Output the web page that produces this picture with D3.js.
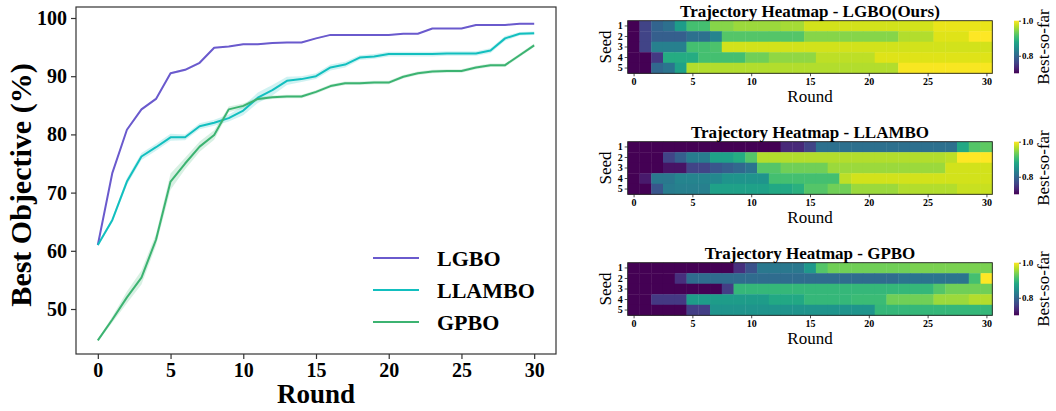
<!DOCTYPE html>
<html><head><meta charset="utf-8">
<script src="https://cdn.jsdelivr.net/npm/d3@7"></script>
<style>
html,body{margin:0;padding:0;background:#fff;}
svg text{font-family:"Liberation Serif","Times New Roman",serif;}
</style></head>
<body>
<svg id="c" width="1056" height="411"></svg>
<script>
// ---------- data ----------
const rounds = d3.range(0, 31);
const seriesNames = ["LGBO", "LLAMBO", "GPBO"];
const seriesColors = ["#6a5acd", "#12bfbf", "#3cb371"];
const lgbo = [61.0,73.4,80.8,84.3,86.1,90.5,91.1,92.3,94.9,95.1,95.5,95.5,95.7,95.8,95.8,96.5,97.1,97.1,97.1,97.1,97.1,97.3,97.3,98.2,98.2,98.2,98.8,98.8,98.8,99.0,99.0];
const llambo = [61.0,65.3,71.9,76.2,77.8,79.5,79.5,81.4,82.0,82.8,84.1,86.3,87.6,89.2,89.5,90.0,91.5,92.0,93.2,93.4,93.8,93.8,93.8,93.8,93.9,93.9,93.9,94.4,96.5,97.3,97.4];
const gpbo = [44.6,48.2,52.0,55.4,61.9,71.9,75.0,77.9,79.9,84.3,84.9,86.1,86.4,86.5,86.5,87.3,88.3,88.8,88.8,88.9,88.9,89.9,90.5,90.8,90.9,90.9,91.5,91.9,91.9,93.6,95.3];
const lgboStd = [0.1,0.2,0.2,0.2,0.2,0.2,0.2,0.2,0.1,0.1,0.1,0.1,0.1,0.1,0.1,0.1,0.1,0.1,0.1,0.1,0.1,0.1,0.1,0.1,0.1,0.1,0.1,0.1,0.1,0.1,0.1];
const llamboStd = [0.2,0.4,0.6,0.6,0.6,0.6,0.5,0.5,0.5,0.6,0.8,0.9,0.9,0.7,0.5,0.5,0.5,0.5,0.4,0.4,0.4,0.4,0.4,0.4,0.4,0.4,0.4,0.4,0.4,0.3,0.3];
const gpboStd = [0.2,0.5,1.0,1.2,1.0,1.4,1.0,0.9,0.8,0.5,0.4,0.3,0.3,0.3,0.3,0.3,0.3,0.3,0.3,0.3,0.3,0.3,0.3,0.3,0.3,0.3,0.3,0.3,0.3,0.3,0.3];
const xTicks = [0,5,10,15,20,25,30];
const yTicks = [50,60,70,80,90,100];

const heatTitles = ["Trajectory Heatmap - LGBO(Ours)", "Trajectory Heatmap - LLAMBO", "Trajectory Heatmap - GPBO"];
const seeds = [1,2,3,4,5];
const cbTicks = [0.8, 1.0];
const heatLGBO = [
 [.70,.76,.796,.81,.865,.91,.91,.945,.945,.955,.955,.955,.955,.96,.96,.98,.98,.98,.98,.98,.98,.98,.98,.98,.98,.98,.99,.99,.99,.99,.99],
 [.70,.76,.79,.79,.79,.81,.81,.835,.92,.92,.92,.92,.92,.92,.92,.945,.945,.945,.945,.945,.945,.945,.945,.965,.965,.965,.985,.985,.985,1.0,1.0],
 [.70,.76,.83,.83,.83,.91,.91,.915,.98,.98,.98,.98,.98,.98,.98,.98,.98,.98,.98,.98,.98,.98,.98,.98,.98,.98,.98,.98,.98,.98,.98],
 [.70,.70,.75,.885,.885,.885,.91,.91,.91,.91,.935,.935,.95,.95,.95,.95,.97,.97,.97,.97,.97,.985,.985,.985,.985,.985,.985,.985,.985,.985,.985],
 [.70,.70,.80,.815,.87,.965,.965,.965,.965,.965,.965,.965,.965,.965,.965,.965,.965,.965,.965,.965,.965,.965,.965,.997,.997,.997,.997,.997,.997,.997,.997]
];
const heatLLAMBO = [
 [.70,.70,.70,.70,.70,.70,.70,.70,.70,.70,.70,.70,.70,.735,.735,.76,.81,.81,.81,.81,.81,.81,.81,.81,.81,.81,.81,.81,.88,.92,.925],
 [.70,.70,.70,.76,.79,.825,.825,.87,.87,.885,.92,.965,.965,.965,.965,.965,.965,.965,.965,.965,.965,.965,.965,.965,.965,.965,.965,.97,1.0,1.0,1.0],
 [.70,.70,.70,.715,.715,.76,.76,.78,.79,.80,.815,.92,.92,.935,.935,.935,.935,.955,.955,.955,.955,.955,.955,.955,.955,.955,.955,.98,.98,.98,.98],
 [.70,.72,.82,.82,.835,.835,.835,.84,.855,.855,.855,.855,.91,.91,.91,.91,.91,.91,.97,.98,.98,.98,.98,.98,.98,.98,.98,.98,.98,.98,.98],
 [.70,.70,.78,.825,.83,.83,.83,.87,.87,.87,.87,.87,.88,.88,.89,.92,.92,.935,.935,.955,.955,.955,.955,.965,.965,.965,.965,.965,.975,.975,.975]
];
const heatGPBO = [
 [.70,.70,.70,.70,.70,.70,.70,.70,.70,.74,.775,.82,.82,.82,.82,.86,.92,.935,.935,.935,.935,.935,.935,.935,.94,.94,.94,.94,.94,.94,.94],
 [.70,.70,.70,.70,.74,.805,.805,.805,.805,.805,.805,.805,.805,.805,.805,.805,.805,.805,.805,.805,.805,.805,.805,.815,.815,.815,.815,.815,.815,.91,1.0],
 [.70,.70,.70,.70,.70,.70,.70,.70,.755,.90,.90,.90,.90,.90,.90,.90,.90,.90,.90,.90,.90,.90,.90,.90,.90,.90,.92,.935,.935,.935,.935],
 [.70,.70,.75,.75,.75,.865,.865,.865,.865,.865,.865,.865,.88,.88,.88,.90,.90,.90,.90,.905,.905,.905,.935,.935,.935,.935,.955,.955,.955,.965,.965],
 [.70,.70,.70,.70,.70,.755,.755,.855,.855,.855,.855,.855,.855,.855,.855,.855,.855,.855,.855,.855,.855,.90,.90,.90,.90,.90,.90,.90,.90,.90,.90]
];
const heatData = [heatLGBO, heatLLAMBO, heatGPBO];

// ---------- drawing ----------
const svg = d3.select("#c");

// Left line chart
const L = {left:76, right:556, top:7, bottom:354};
const x = d3.scaleLinear().domain([-1.5, 31.5]).range([L.left, L.right]);
const y = d3.scaleLinear().domain([42.27, 101.89]).range([L.bottom, L.top]);
const means = [lgbo, llambo, gpbo];
const stds = [lgboStd, llamboStd, gpboStd];

const gL = svg.append("g");
means.forEach((m, i) => {
  const area = d3.area().x((d, j) => x(rounds[j])).y0((d, j) => y(d - stds[i][j])).y1((d, j) => y(d + stds[i][j]));
  gL.append("path").attr("d", area(m)).attr("fill", seriesColors[i]).attr("fill-opacity", 0.2).attr("stroke", "none");
});
means.forEach((m, i) => {
  const line = d3.line().x((d, j) => x(rounds[j])).y(d => y(d));
  gL.append("path").attr("d", line(m)).attr("fill", "none").attr("stroke", seriesColors[i]).attr("stroke-width", 2).attr("stroke-linejoin", "round");
});

// axes
const ax = gL.append("g").attr("transform", `translate(0,${L.bottom})`)
  .call(d3.axisBottom(x).tickValues(xTicks).tickSize(5).tickPadding(4).tickFormat(d3.format("d")));
const ay = gL.append("g").attr("transform", `translate(${L.left},0)`)
  .call(d3.axisLeft(y).tickValues(yTicks).tickSize(5).tickPadding(4).tickFormat(d3.format("d")));
[ax, ay].forEach(a => {
  a.select(".domain").remove();
  a.selectAll("line").attr("stroke", "#333").attr("stroke-width", 1.2);
  a.selectAll("text").attr("font-family", "Liberation Serif").attr("font-weight", "bold").attr("font-size", 20).attr("fill", "#000");
});
gL.append("rect").attr("x", L.left).attr("y", L.top).attr("width", L.right - L.left).attr("height", L.bottom - L.top)
  .attr("fill", "none").attr("stroke", "#333").attr("stroke-width", 1.2);

gL.append("text").attr("x", (L.left + L.right) / 2 - 0).attr("y", 403).attr("text-anchor", "middle")
  .attr("font-weight", "bold").attr("font-size", 27).text("Round");
gL.append("text").attr("transform", `translate(31,185) rotate(-90)`).attr("text-anchor", "middle")
  .attr("font-weight", "bold").attr("font-size", 30).text("Best Objective (%)");

// legend
const legY = [258, 290, 322];
seriesNames.forEach((n, i) => {
  gL.append("line").attr("x1", 373).attr("x2", 419).attr("y1", legY[i]).attr("y2", legY[i])
    .attr("stroke", seriesColors[i]).attr("stroke-width", 2);
  gL.append("text").attr("x", 437).attr("y", legY[i]).attr("dy", "0.35em")
    .attr("font-weight", "bold").attr("font-size", 22).text(n);
});

// Heatmaps
const color = d3.scaleSequential(d3.interpolateViridis).domain([0.7, 1.0]).clamp(true);
const H = {left:627.7, right:992.3, height:52.6};
const tops = [20.7, 141.7, 262.7];
const hx = d3.scaleBand().domain(rounds).range([H.left, H.right]).padding(0);
const hxLin = d3.scaleLinear().domain([-0.5, 30.5]).range([H.left, H.right]);

heatData.forEach((mat, k) => {
  const top = tops[k];
  const hy = d3.scaleBand().domain(seeds).range([top, top + H.height]).padding(0);
  const g = svg.append("g");
  mat.forEach((row, r) => {
    row.forEach((v, c) => {
      g.append("rect").attr("x", hx(rounds[c])).attr("y", hy(seeds[r]))
        .attr("width", hx.bandwidth() + 0.4).attr("height", hy.bandwidth() + 0.4)
        .attr("fill", color(v));
    });
  });
  g.append("rect").attr("x", H.left).attr("y", top).attr("width", H.right - H.left).attr("height", H.height)
    .attr("fill", "none").attr("stroke", "#222").attr("stroke-width", 0.9);
  const gx = g.append("g").attr("transform", `translate(0,${top + H.height})`)
    .call(d3.axisBottom(hxLin).tickValues(xTicks).tickSize(3).tickPadding(2).tickFormat(d3.format("d")));
  const gy = g.append("g").attr("transform", `translate(${H.left},0)`)
    .call(d3.axisLeft(hy).tickSize(3).tickPadding(2));
  [gx, gy].forEach(a => {
    a.select(".domain").remove();
    a.selectAll("line").attr("stroke", "#222").attr("stroke-width", 0.8);
    a.selectAll("text").attr("font-family", "Liberation Serif").attr("font-weight", "bold").attr("font-size", 10).attr("fill", "#000");
  });
  g.append("text").attr("x", (H.left + H.right) / 2).attr("y", top - 4).attr("text-anchor", "middle")
    .attr("font-weight", "bold").attr("font-size", 17).text(heatTitles[k]);
  g.append("text").attr("x", (H.left + H.right) / 2).attr("y", top + H.height + 29).attr("text-anchor", "middle")
    .attr("font-size", 17).text("Round");
  g.append("text").attr("transform", `translate(611,${top + H.height / 2}) rotate(-90)`).attr("text-anchor", "middle")
    .attr("font-size", 17).text("Seed");

  // colorbar
  const cbX = 1014, cbW = 5;
  const cy = d3.scaleLinear().domain([0.7, 1.0]).range([top + H.height, top]);
  const gradId = "grad" + k;
  const grad = svg.append("defs").append("linearGradient").attr("id", gradId)
    .attr("x1", 0).attr("x2", 0).attr("y1", 1).attr("y2", 0);
  d3.range(0, 1.0001, 0.1).forEach(t => {
    grad.append("stop").attr("offset", t).attr("stop-color", d3.interpolateViridis(t));
  });
  g.append("rect").attr("x", cbX).attr("y", top).attr("width", cbW).attr("height", H.height).attr("fill", `url(#${gradId})`);
  const gc = g.append("g").attr("transform", `translate(${cbX + cbW},0)`)
    .call(d3.axisRight(cy).tickValues(cbTicks).tickSize(2).tickPadding(1).tickFormat(d3.format(".1f")));
  gc.select(".domain").remove();
  gc.selectAll("line").attr("stroke", "#222").attr("stroke-width", 0.8);
  gc.selectAll("text").attr("font-family", "Liberation Serif").attr("font-weight", "bold").attr("font-size", 9).attr("fill", "#000");
  g.append("text").attr("transform", `translate(1049,${top + H.height / 2}) rotate(-90)`).attr("text-anchor", "middle")
    .attr("font-size", 17).text("Best-so-far");
});
</script>
</body></html>
